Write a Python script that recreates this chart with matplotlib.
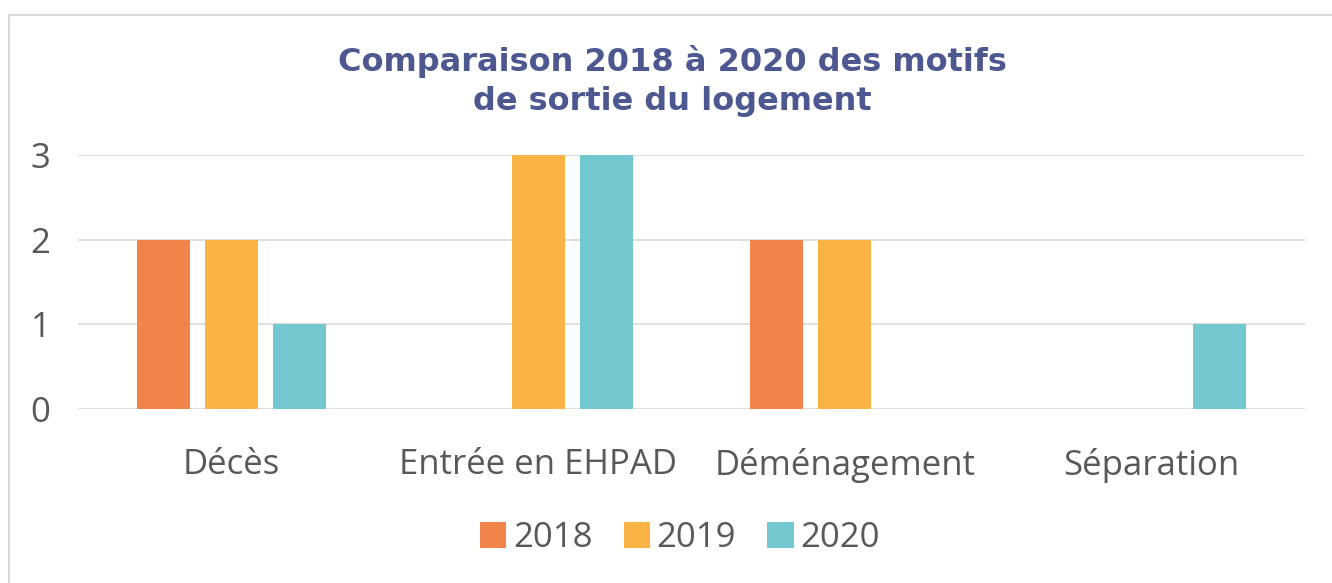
import matplotlib
matplotlib.use("Agg")
import matplotlib.pyplot as plt
from matplotlib.patches import Rectangle
import numpy as np

categories = ["Décès", "Entrée en EHPAD", "Déménagement", "Séparation"]
years = ["2018", "2019", "2020"]
v2018 = [2, 0, 2, 0]
v2019 = [2, 3, 2, 0]
v2020 = [1, 3, 0, 1]
colors = ["#F0844A", "#F9B443", "#72C8CE"]
title = "Comparaison 2018 à 2020 des motifs\nde sortie du logement"

fig = plt.figure(figsize=(13.32, 5.83), dpi=100)
W, H = 1332, 583
ax = fig.add_axes([78 / W, 1 - 409 / H, (1305 - 78) / W, (409 - 155) / H])

x = np.arange(len(categories))
width = 0.173
offset = 0.222
for i, (vals, lab) in enumerate(zip([v2018, v2019, v2020], years)):
    ax.bar(x + (i - 1) * offset, vals, width, color=colors[i], label=lab, zorder=3)

ax.set_xlim(-0.5, len(categories) - 0.5)
ax.set_ylim(0, 3)
ax.set_yticks([0, 1, 2, 3])
ax.yaxis.grid(True, color="#D9D9D9", linewidth=1.2, zorder=0)
for s in ax.spines.values():
    s.set_visible(False)
ax.tick_params(axis="both", length=0, colors="#595959", labelsize=25)
ax.tick_params(axis="y", pad=20)
ax.tick_params(axis="x", pad=28)
ax.set_xticks(x)
ax.set_xticklabels(categories, fontfamily="Open Sans", color="#595959")
for t in ax.get_yticklabels():
    t.set_fontfamily("Open Sans")

fig.text(672 / W, 1 - 81 / H, title, ha="center", va="center", fontsize=23,
         fontweight="bold", color="#4E5890", family="DejaVu Sans", linespacing=1.3)

leg = fig.legend(loc="center", bbox_to_anchor=(680 / W, 1 - 538 / H), ncol=3,
                 frameon=False, prop={"family": "Open Sans", "size": 25},
                 handlelength=0.75, handleheight=0.75, handletextpad=0.2, columnspacing=0.9)
for t in leg.get_texts():
    t.set_color("#595959")

fig.patches.append(Rectangle((9 / W, -0.1), 1.2, 1 - 15 / H + 0.1, transform=fig.transFigure,
                             fill=False, edgecolor="#D9D9D9", linewidth=1.5))

fig.savefig("out.png", dpi=100, facecolor="white")
